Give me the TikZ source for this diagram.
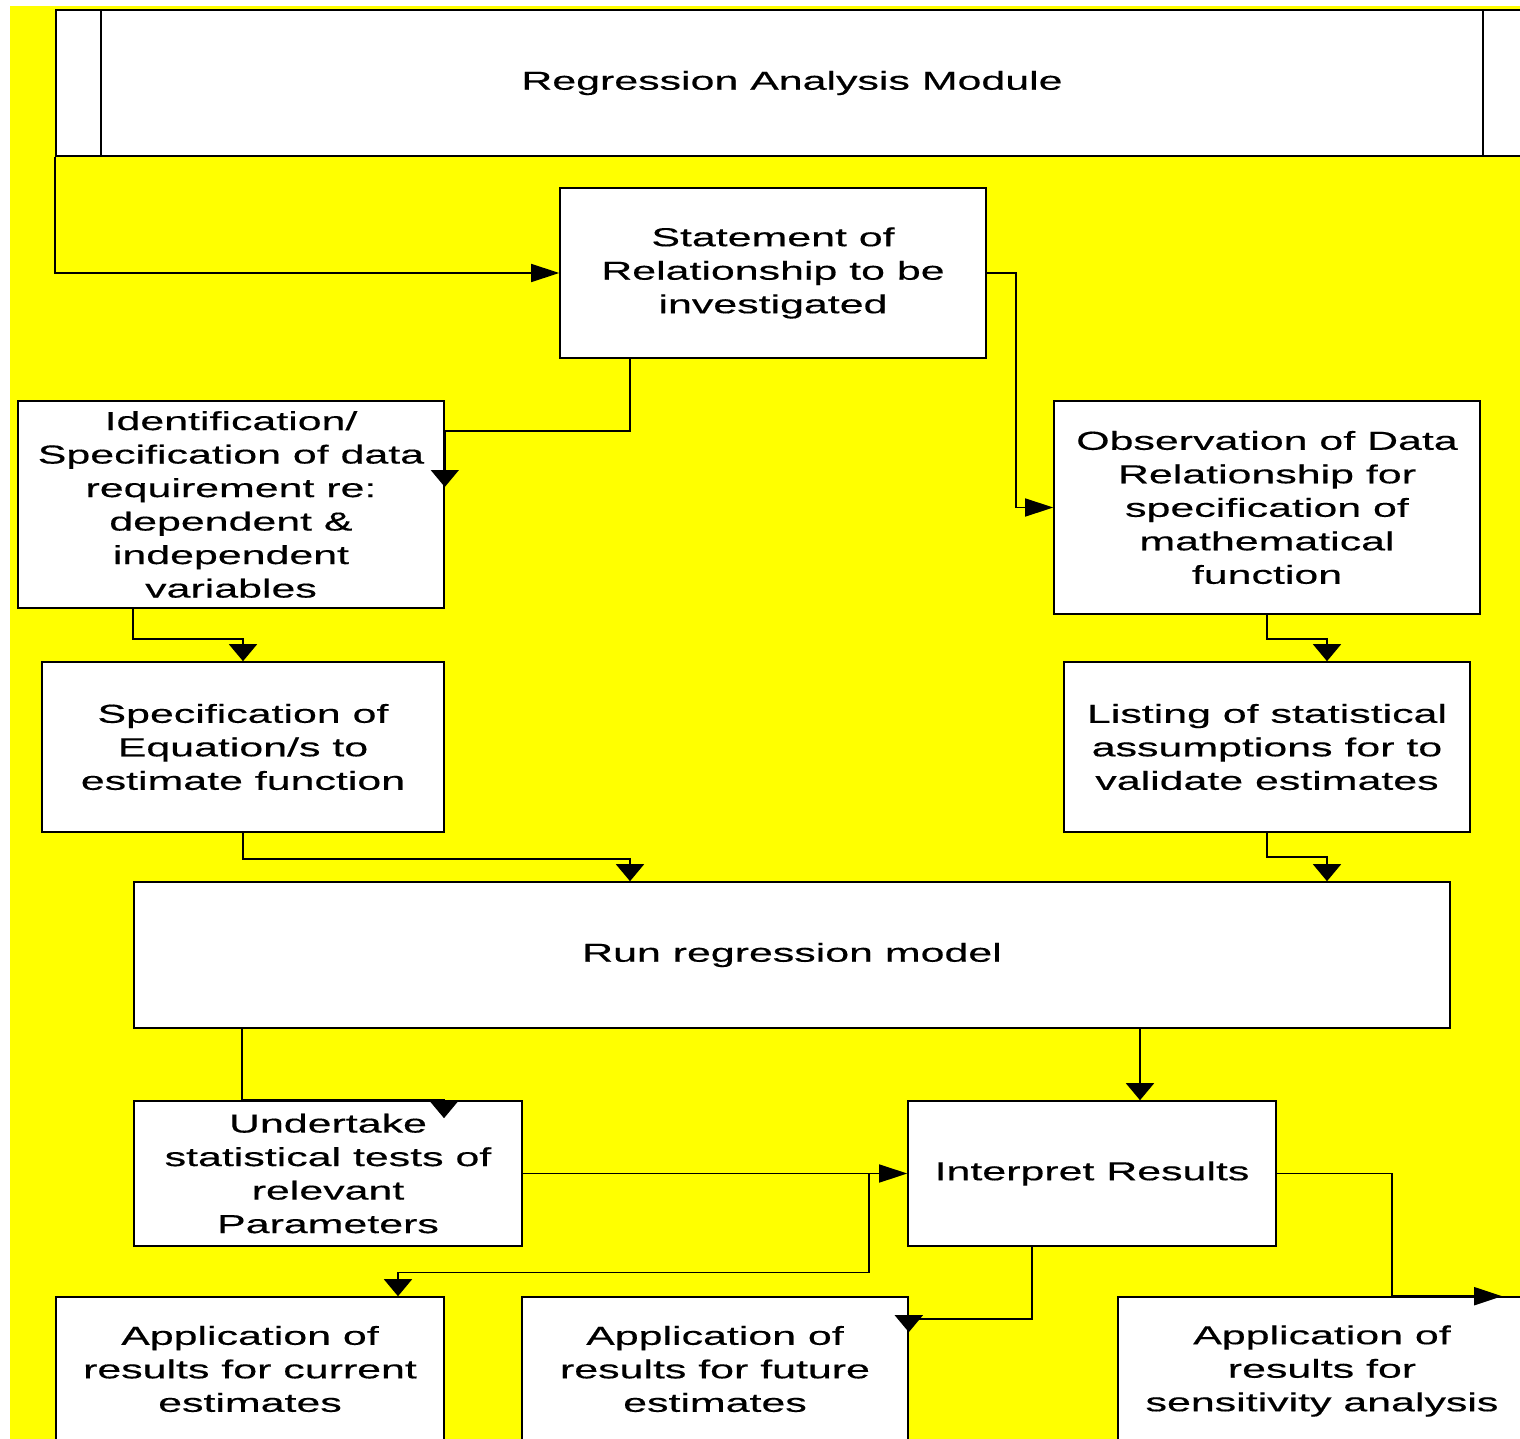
\documentclass[tikz,border=0pt]{standalone}
\usepackage{fontspec}
\setmainfont[FakeStretch=1.65,FakeBold=0.4]{Liberation Sans}
\usetikzlibrary{arrows.meta}
\definecolor{bgyellow}{RGB}{255,255,0}
\begin{document}
\begin{tikzpicture}[x=1pt,y=-1pt,
  box/.style={draw=black, fill=white, line width=1.6pt, inner sep=0pt, align=center,
              font=\fontsize{26pt}{33.5pt}\selectfont},
  link/.style={draw=black, line width=1.6pt},
  varr/.style={link, -{Triangle[length=17pt,width=28pt]}},
  harr/.style={link, -{Triangle[length=28pt,width=18pt]}}]
\useasboundingbox (0,0) rectangle (1520,1439);
\fill[bgyellow] (10,6) rectangle (1520,1439);

% header (predefined process shape)
\node[box, minimum width=1472pt, minimum height=146pt] (head) at (792,83) {Regression Analysis Module};
\draw[link] ([xshift=46pt]head.north west) -- ([xshift=46pt]head.south west);
\draw[link] ([xshift=-46pt]head.north east) -- ([xshift=-46pt]head.south east);

% process boxes
\node[box, minimum width=426pt, minimum height=170pt] (stmt) at (773,273)
  {Statement of\\Relationship to be\\investigated};
\node[box, minimum width=426pt, minimum height=207pt] (ident) at (231,504.5)
  {Identification/\\Specification of data\\requirement re:\\dependent \&\\independent\\variables};
\node[box, minimum width=426pt, minimum height=213pt] (obs) at (1267,507.5)
  {Observation of Data\\Relationship for\\specification of\\mathematical\\function};
\node[box, minimum width=402pt, minimum height=170pt] (speq) at (243,747)
  {Specification of\\Equation/s to\\estimate function};
\node[box, minimum width=406pt, minimum height=170pt] (list) at (1267,747)
  {Listing of statistical\\assumptions for to\\validate estimates};
\node[box, minimum width=1316pt, minimum height=146pt] (run) at (792,955)
  {Run regression model};
\node[box, minimum width=388pt, minimum height=145pt] (under) at (328,1173.5)
  {Undertake\\statistical tests of\\relevant\\Parameters};
\node[box, minimum width=368pt, minimum height=145pt] (interp) at (1092,1173.5)
  {Interpret Results};
\node[box, minimum width=388pt, minimum height=144pt] (appc) at (250,1369)
  {Application of\\results for current\\estimates};
\node[box, minimum width=386pt, minimum height=144pt] (appf) at (715,1369)
  {Application of\\results for future\\estimates};
\node[box, minimum width=408pt, minimum height=148pt] (apps) at (1322,1371)
  {Application of\\results for\\sensitivity analysis};

% connectors
\draw[harr] (head.south west) |- (stmt.west);
\draw[varr] ([xshift=-143pt]stmt.south) |- ([yshift=-31pt]ident.north east)
  -- ([yshift=17.5pt]ident.east);
\draw[harr] (stmt.east) -- ++(29,0) |- (obs.west);
\draw[varr] ([xshift=-98pt]ident.south) -- ++(0,30) -| (speq.north);
\draw[varr] (obs.south) -- ++(0,24) -| ([xshift=60pt]list.north);
\draw[varr] (speq.south) -- ++(0,26) -| ([xshift=-162pt]run.north);
\draw[varr] (list.south) -- ++(0,24) -| ([xshift=535pt]run.north);
\draw[varr] ([xshift=-550pt]run.south) |- ([xshift=116pt]under.north) -- ++(0,18);
\draw[varr] ([xshift=348pt]run.south) -- ([xshift=48pt]interp.north);
\draw[harr] (under.east) -- (interp.west);
\draw[varr] ([xshift=-38pt]interp.west) -- ++(0,99) -| ([xshift=148pt]appc.north);
\draw[varr] ([xshift=-60pt]interp.south) |- ([yshift=-23pt]appf.north east)
  -- ([yshift=-36pt]appf.north east);
\draw[harr] (interp.east) -| ([xshift=275pt]apps.north west) -- ([xshift=385pt]apps.north west);
\end{tikzpicture}
\end{document}
